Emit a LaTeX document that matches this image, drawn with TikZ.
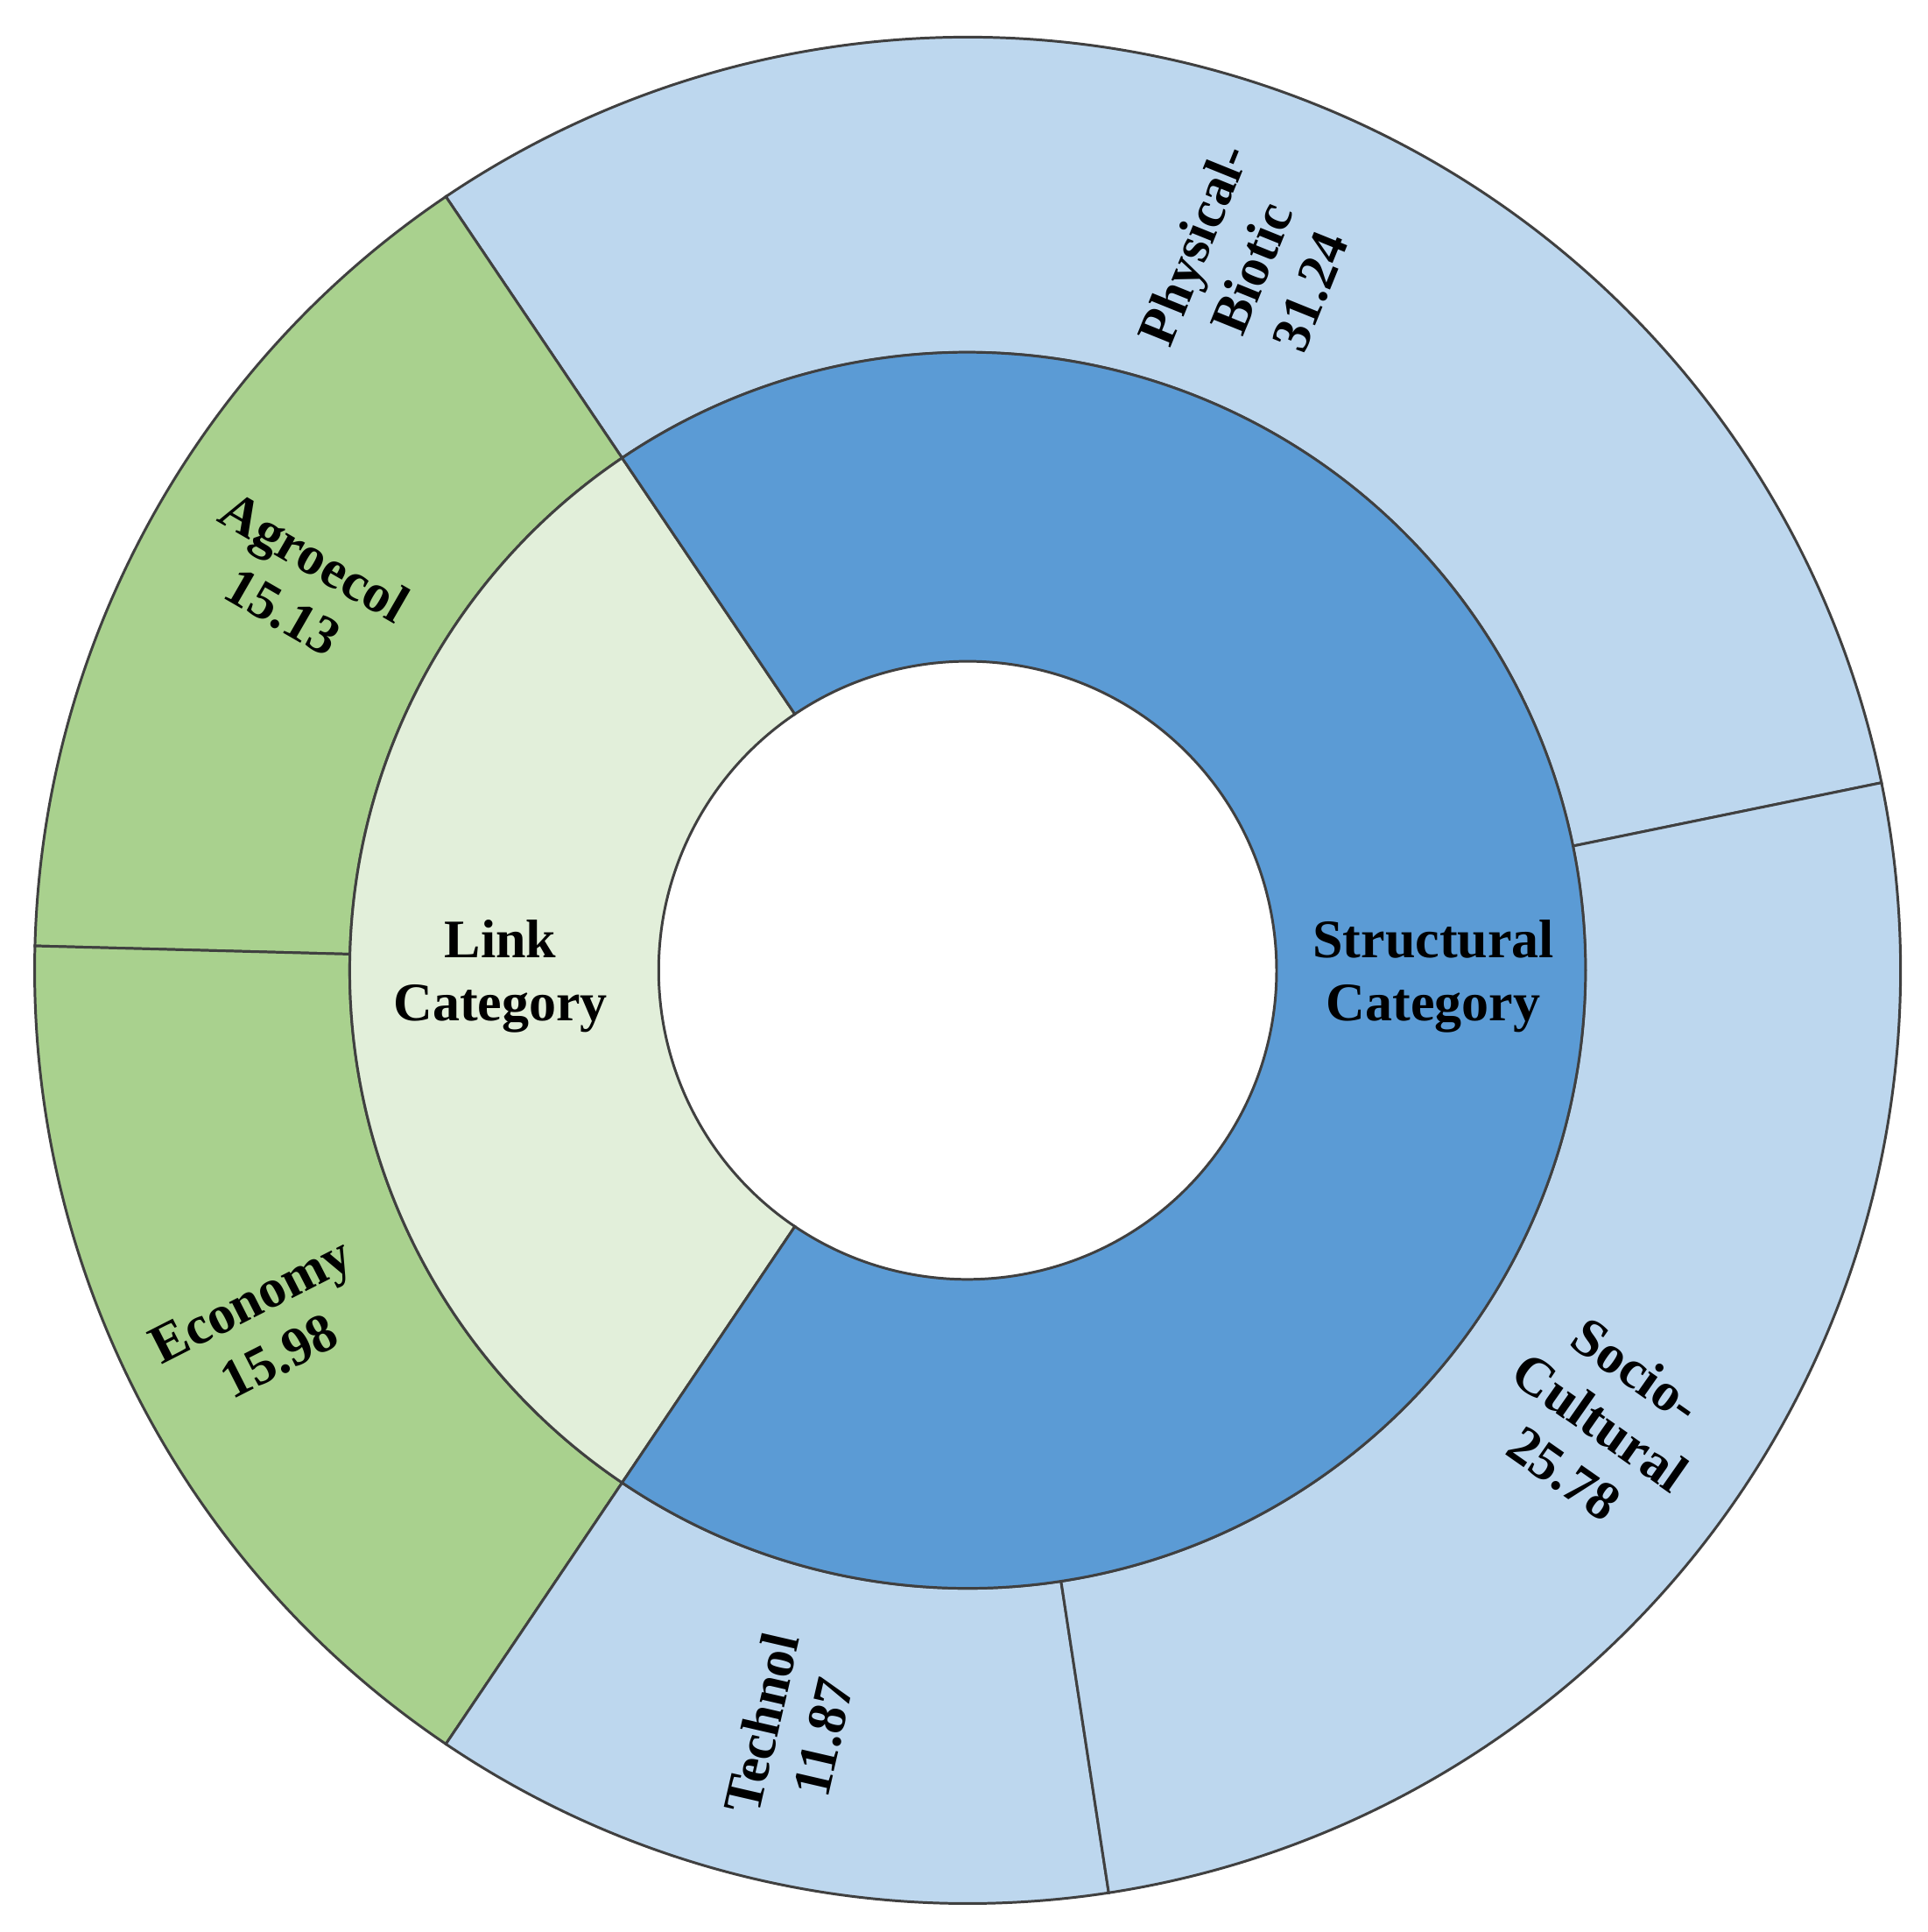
\documentclass[tikz,border=0pt]{standalone}
\usepackage{fontspec}
\setmainfont{Liberation Serif}
\definecolor{lb}{HTML}{BDD7EE}
\definecolor{db}{HTML}{5B9BD5}
\definecolor{gr}{HTML}{A9D18E}
\definecolor{lg}{HTML}{E2EFDA}
\begin{document}
\begin{tikzpicture}[
  seg/.style={draw=black!75,line width=0.6pt},
  lab/.style={font=\fontsize{12.5}{14.5}\selectfont\bfseries,align=center,inner sep=0pt}]
\useasboundingbox (0,0) rectangle (15.6,15.63);
\coordinate (c) at (7.83,7.78);
\def\ro{7.55}\def\rm{5.0}\def\ri{2.5}
\newcommand{\sector}[5]{% color r1 r2 a1 a2
  \filldraw[fill=#1,seg] ([shift={(#4:#2)}]c) arc[start angle=#4,end angle=#5,radius=#2] -- ([shift={(#5:#3)}]c) arc[start angle=#5,end angle=#4,radius=#3] -- cycle;}
% outer ring
\sector{lb}{\rm}{\ro}{11.6}{124.0}
\sector{gr}{\rm}{\ro}{124.0}{178.5}
\sector{gr}{\rm}{\ro}{178.5}{236.0}
\sector{lb}{\rm}{\ro}{236.0}{278.7}
\sector{lb}{\rm}{\ro}{278.7}{371.6}
% inner ring
\sector{lg}{\ri}{\rm}{124.0}{236.0}
\sector{db}{\ri}{\rm}{236.0}{484.0}
% labels
\node[lab,rotate=68] (pb) at ([shift={(68:6.13)}]c) {Physical-\\Biotic\\31.24};
\node[lab,rotate=-35] (sc) at ([shift={(-35.5:6.29)}]c) {Socio-\\Cultural\\25.78};
\node[lab,rotate=77] (te) at ([shift={(257:6.31)}]c) {Technol\\11.87};
\node[lab,rotate=27] (ec) at ([shift={(207:6.38)}]c) {Economy\\15.98};
\node[lab,rotate=-30] (ag) at ([shift={(150:6.25)}]c) {Agroecol\\15.13};
\node[lab] (lc) at (4.05,7.73) {Link\\Category};
\node[lab] (stc) at (11.6,7.73) {Structural\\Category};
\end{tikzpicture}
\end{document}
